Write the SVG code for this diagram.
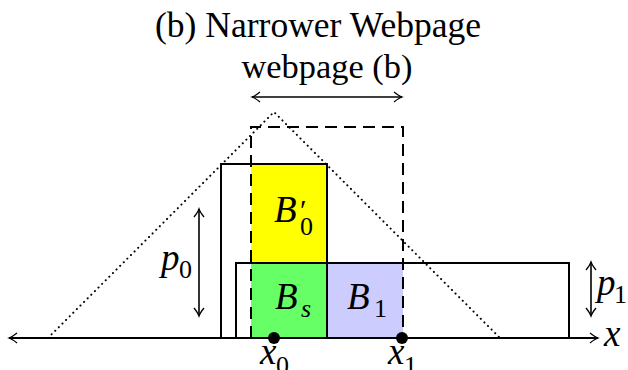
<svg xmlns="http://www.w3.org/2000/svg" width="628" height="370" viewBox="0 0 628 370">
<style>
.t{font-family:"Liberation Serif","DejaVu Serif",serif;fill:#000}
.m{font-family:"Liberation Serif","DejaVu Serif",serif;font-style:italic;fill:#000}
.u{font-style:normal}
.ln{fill:none;stroke:#000;stroke-width:2}
.thin{fill:none;stroke:#000;stroke-width:1.6}
.dash{fill:none;stroke:#000;stroke-width:2;stroke-dasharray:12 7}
.dot{fill:none;stroke:#000;stroke-width:2;stroke-dasharray:0.1 5;stroke-linecap:round}
</style>
<defs>
<marker id="ah" viewBox="-10 -6 12 12" refX="0" refY="0" markerWidth="12" markerHeight="12" markerUnits="userSpaceOnUse" orient="auto-start-reverse">
<path d="M-8,-5 Q-3,-1 0,0 Q-3,1 -8,5" fill="none" stroke="#000" stroke-width="1.3"/>
</marker>
</defs>
<g id="title">
<text class="t" x="318" y="37" font-size="35" text-anchor="middle" textLength="326" lengthAdjust="spacingAndGlyphs">(b) Narrower Webpage</text>
</g>
<g id="webpage-label">
<text class="t" x="327" y="78" font-size="34.5" text-anchor="middle" textLength="171" lengthAdjust="spacingAndGlyphs">webpage (b)</text>
</g>
<g id="B0prime">
<rect x="251" y="164" width="76" height="99" fill="#ffff00"/>
<text class="m" x="274" y="222" font-size="37">B<tspan class="u" x="300" y="220" font-size="30">′</tspan><tspan class="u" x="300" y="235" font-size="26">0</tspan></text>
</g>
<g id="Bs">
<rect x="251" y="263" width="76" height="75" fill="#66ff66"/>
<text class="m" x="275" y="309" font-size="37">B<tspan x="301" y="317" font-size="26">s</tspan></text>
</g>
<g id="B1">
<rect x="327" y="263" width="76" height="75" fill="#ccccff"/>
<text class="m" x="347" y="309" font-size="37">B<tspan class="u" x="374" y="317" font-size="26">1</tspan></text>
</g>
<g id="tall-rect">
<rect class="ln" x="221" y="164" width="106" height="174"/>
</g>
<g id="wide-rect">
<rect class="ln" x="236" y="263" width="333" height="75"/>
</g>
<g id="triangle">
<path class="dot" d="M48,338 L274,112 L500,338"/>
</g>
<g id="webpage-box">
<path class="dash" d="M251,338 L251,127 L403,127 L403,338"/>
</g>
<g id="p0-label">
<text class="m" x="161" y="270" font-size="37">p<tspan class="u" x="179" y="278" font-size="26">0</tspan></text>
</g>
<g id="p1-label">
<text class="m" x="597" y="295" font-size="37">p<tspan class="u" x="614" y="303" font-size="26">1</tspan></text>
</g>
<g id="x-label">
<text class="m" x="604" y="346" font-size="37">x</text>
</g>
<g id="x0">
<circle cx="274" cy="338" r="6" fill="#000"/>
<text class="m" x="260" y="364" font-size="37">x<tspan class="u" x="276" y="374" font-size="26">0</tspan></text>
</g>
<g id="x1">
<circle cx="402" cy="338" r="6" fill="#000"/>
<text class="m" x="388" y="364" font-size="37">x<tspan class="u" x="404" y="374" font-size="26">1</tspan></text>
</g>
<g id="connectors">
<line class="ln" x1="9" y1="338" x2="598" y2="338" marker-start="url(#ah)" marker-end="url(#ah)"/>
<line class="thin" x1="252" y1="97" x2="402" y2="97" marker-start="url(#ah)" marker-end="url(#ah)"/>
<line class="thin" x1="199" y1="209" x2="199" y2="316" marker-start="url(#ah)" marker-end="url(#ah)"/>
<line class="thin" x1="591" y1="262" x2="591" y2="316" marker-start="url(#ah)" marker-end="url(#ah)"/>
</g>
</svg>
